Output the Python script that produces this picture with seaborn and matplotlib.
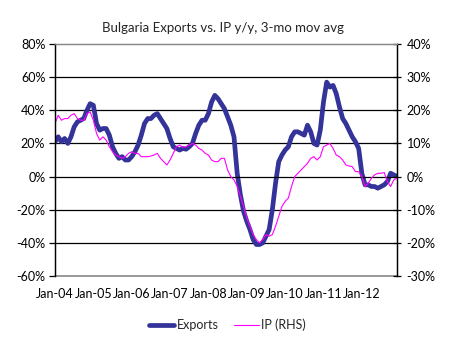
import matplotlib
matplotlib.use("Agg")
import matplotlib.pyplot as plt
import seaborn as sns
import pandas as pd
import numpy as np

# Monthly series, Jan-2004 .. Dec-2012, y/y % change, 3-month moving average
exports = [21, 24, 21, 23, 20, 24, 30, 33, 34, 35, 40, 44,
           43, 32, 28, 29, 29, 25, 18, 14, 11, 12, 10, 10,
           12, 15, 19, 25, 32, 35, 35, 37, 38, 35, 32, 29,
           23, 18, 17, 16, 17, 16.5, 18, 20, 26, 31, 34, 34,
           38, 45, 49, 47, 44, 41, 36, 31, 24, 2, -11, -21,
           -27, -32, -38, -41, -41, -40, -36, -32, -20, -4, 9, 13,
           16, 18, 24, 27, 27, 26, 25, 31, 27, 20, 19, 28,
           45, 57, 54, 55, 50, 42, 35, 32, 28, 24, 21, 17,
           2, -5, -5, -6, -6, -7, -6, -5, -3, 2, 1, 0]
ip = [16, 18.5, 17, 17.5, 17.5, 18.5, 19, 17.5, 17, 17, 19, 19.5,
      17, 13, 11, 12, 11, 9, 7.5, 6.5, 6, 5.5, 6, 7,
      7.5, 7, 7, 6, 6, 6, 6.2, 6.5, 7, 5.5, 4.5, 3.5,
      5, 7, 9, 9.5, 8.8, 9, 9.5, 10, 9.5, 8.5, 8, 7,
      6.5, 5, 4.5, 4.5, 5.5, 5.5, 2, 0, -1, -3, -6, -9,
      -12.5, -15, -17.5, -19, -20, -19, -17.5, -18, -17.5, -15, -12, -9,
      -7.5, -6.5, -3, 0, 1, 2, 3, 4, 5.5, 6, 5, 6,
      9, 9.5, 10, 8.5, 6.5, 6, 5, 3.5, 3.2, 3, 1.5, 1.5,
      0, -3, -2, -0.5, 0.5, 1, 1, 1.2, -1.5, -3, -1, -0.5]
year_labels = ["Jan-04", "Jan-05", "Jan-06", "Jan-07", "Jan-08",
               "Jan-09", "Jan-10", "Jan-11", "Jan-12"]
left_ticks = [-60, -40, -20, 0, 20, 40, 60, 80]
right_ticks = [-30, -20, -10, 0, 10, 20, 30, 40]

df = pd.DataFrame({"month": np.arange(len(exports)),
                   "Exports": exports, "IP (RHS)": ip})

sns.set_style("white")
plt.rcParams["font.family"] = ["Lato", "DejaVu Sans"]

fig = plt.figure(figsize=(4.51, 3.42), dpi=100)
ax = fig.add_axes([55 / 451, 1 - 276 / 342, 342 / 451, 232 / 342])
ax2 = ax.twinx()

navy = "#333399"
magenta = "#FF00FF"

# horizontal gridlines (the 0% level is the category axis itself)
for lvl in [-40, -20, 20, 40, 60]:
    ax.axhline(lvl, color="black", lw=0.9, zorder=0)

sns.lineplot(data=df, x="month", y="Exports", ax=ax, color=navy,
             lw=3.4, label="Exports", legend=False)
sns.lineplot(data=df, x="month", y="IP (RHS)", ax=ax2, color=magenta,
             lw=0.8, label="IP (RHS)", legend=False)

ax.set_xlim(0, len(exports) - 1)
ax.set_ylim(-60, 80)
ax2.set_ylim(-30, 40)

ax.set_yticks(left_ticks)
ax.set_yticklabels([f"{v}%" for v in left_ticks])
ax2.set_yticks(right_ticks)
ax2.set_yticklabels([f"{v}%" for v in right_ticks])

ax.set_xticks(np.arange(len(year_labels)) * 12)
ax.set_xticklabels(year_labels)
ax.set_xlabel("")
ax.set_ylabel("")
ax2.set_ylabel("")

# category axis crosses at 0%, labels sit under the plot
ax.spines["bottom"].set_position(("data", 0))
ax.spines["bottom"].set_color("black")
ax.spines["bottom"].set_linewidth(0.9)
ax.tick_params(axis="x", direction="inout", length=8, width=0.9,
               color="black", pad=76, labelsize=9, labelcolor="black")
ax.tick_params(axis="y", direction="out", length=4, width=0.9,
               color="black", labelsize=9, labelcolor="black", pad=3)
ax2.tick_params(axis="y", direction="inout", length=6, width=0.9,
                color="black", labelsize=9, labelcolor="black", pad=4)

for a in (ax, ax2):
    a.spines["top"].set_color("#888888")
    a.spines["top"].set_linewidth(0.9)
    a.spines["left"].set_color("black")
    a.spines["left"].set_linewidth(0.9)
    a.spines["right"].set_color("black")
    a.spines["right"].set_linewidth(0.9)
ax2.spines["bottom"].set_visible(False)
ax.axhline(-60, color="#888888", lw=1.2, clip_on=False)

fig.suptitle("Bulgaria Exports vs. IP y/y, 3-mo mov avg", y=0.935,
             fontsize=9.5, x=0.495)

h1, l1 = ax.get_legend_handles_labels()
h2, l2 = ax2.get_legend_handles_labels()
fig.legend(h1 + h2, l1 + l2, loc="center", bbox_to_anchor=(0.505, 0.05),
           ncol=2, frameon=False, fontsize=9, handlelength=2.0,
           handletextpad=0.2, columnspacing=1.2)

fig.savefig("out.png", dpi=100)
